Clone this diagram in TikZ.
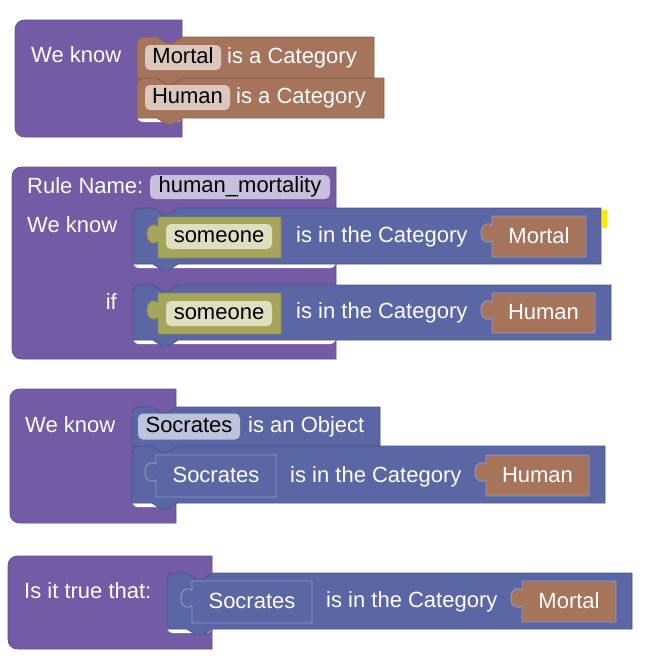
\documentclass[tikz,border=0pt]{standalone}
\usepackage{fontspec}
\setmainfont{Liberation Sans}
\definecolor{cpurple}{HTML}{745BA5}
\definecolor{cpurpled}{HTML}{65508F}
\definecolor{cbrown}{HTML}{A5745B}
\definecolor{cbrownd}{HTML}{8C604B}
\definecolor{cblue}{HTML}{5B67A5}
\definecolor{cblued}{HTML}{4A558C}
\definecolor{cbluel}{HTML}{8F97C8}
\definecolor{colive}{HTML}{A5A55B}
\definecolor{colived}{HTML}{86864A}
\definecolor{fbrown}{HTML}{DCC7BD}
\definecolor{flav}{HTML}{C8BEDD}
\definecolor{fblue}{HTML}{BDC2DD}
\definecolor{folive}{HTML}{DEDEC1}
\definecolor{cyel}{HTML}{FFE800}
\tikzset{
  txt/.style={font=\fontsize{22}{24}\selectfont, inner sep=0pt, text height=15.8pt, text depth=4.8pt},
  lbl/.style={txt, text=white, anchor=west},
  fld/.style={txt, text=black, rounded corners=5pt},
  purpleblock/.style={fill=cpurple, draw=cpurpled, line width=0.8pt},
  brownblock/.style={fill=cbrown, draw=cbrownd, line width=0.8pt},
  blueblock/.style={fill=cblue, draw=cblued, line width=0.8pt},
  oliveblock/.style={fill=colive, draw=colived, line width=0.8pt},
  brownval/.style={fill=cbrown, draw=cbluel, line width=0.9pt},
  blueval/.style={fill=cblue, draw=cbluel, line width=0.9pt},
  lip/.style={fill=white, draw=none, rounded corners=6pt},
}
\newcommand{\purpleblk}[4]{\draw[purpleblock] (#1+10,#2) -- (#3,#2) -- (#3,#4) -- (#1+10,#4) .. controls (#1+4,#4) and (#1,#4-4) .. (#1,#4-10) -- (#1,#2+10) .. controls (#1,#2+4) and (#1+4,#2) .. (#1+10,#2) -- cycle;}
\newcommand{\stmtblk}[5]{\draw[#5] (#1,#4) -- (#1,#2+7) .. controls (#1,#2+3) and (#1+3,#2) .. (#1+7,#2) -- (#1+20,#2) -- (#1+29,#2+6) -- (#1+36,#2+6) -- (#1+45,#2) -- (#3,#2) -- (#3,#4) -- (#1+45,#4) -- (#1+36,#4+6) -- (#1+29,#4+6) -- (#1+20,#4) -- cycle;}
\newcommand{\valblk}[5]{\draw[#5] (#1,#2) -- (#3,#2) -- (#3,#4) -- (#1,#4) -- (#1,#2+25) .. controls (#1-3,#2+27) and (#1-11,#2+28) .. (#1-11,#2+17) .. controls (#1-11,#2+6) and (#1-3,#2+7) .. (#1,#2+9) -- cycle;}
\begin{document}
\begin{tikzpicture}[x=1pt,y=-1pt]
\useasboundingbox[fill=white] (0,0) rectangle (660,667);
% ---------- Block 1 ----------
\purpleblk{15}{20}{182}{137}
\fill[lip] (137,108) rectangle (182,122);
\stmtblk{137}{78}{384}{118}{brownblock}
\stmtblk{137}{37}{374}{78}{brownblock}
\node[lbl] (b1we) at (31,56.5) {We know};
\node[fld, fill=fbrown, minimum width=76pt, minimum height=25pt] (b1f1) at (183,57.5) {Mortal};
\node[lbl] (b1t1) at (227,57.5) {is a Category};
\node[fld, fill=fbrown, minimum width=85pt, minimum height=25pt] (b1f2) at (187.5,97.5) {Human};
\node[lbl] (b1t2) at (236,97.5) {is a Category};
% ---------- Block 2 ----------
\purpleblk{12}{167}{336}{359}
\fill[lip] (133,254) rectangle (336,268);
\fill[lip] (133,331) rectangle (336,344);
\stmtblk{133}{208}{601}{264}{blueblock}
\stmtblk{133}{285}{611}{340}{blueblock}
\fill[cyel] (602,210) rectangle (607,228);
\node[lbl] (b2rn) at (27,187.5) {Rule Name:};
\node[fld, fill=flav, minimum width=180pt, minimum height=24pt] (b2name) at (240,187) {human\_mortality};
\node[lbl] (b2we) at (27,226.5) {We know};
\node[lbl, anchor=east] (b2if) at (117,303.5) {if};
\valblk{158}{217}{281}{258}{oliveblock}
\node[fld, fill=folive, minimum width=106pt, minimum height=25pt] (b2s1) at (219,236.5) {someone};
\node[lbl] (b2c1) at (296,236.5) {is in the Category};
\valblk{492}{216}{586}{257}{brownval}
\node[txt, text=white] (b2m) at (539,237.5) {Mortal};
\valblk{158}{293}{281}{334}{oliveblock}
\node[fld, fill=folive, minimum width=106pt, minimum height=25pt] (b2s2) at (219,313.5) {someone};
\node[lbl] (b2c2) at (296,313) {is in the Category};
\valblk{492}{293}{595}{333}{brownval}
\node[txt, text=white] (b2h) at (543.5,313.5) {Human};
% ---------- Block 3 ----------
\purpleblk{10}{389}{176}{523}
\fill[lip] (132,493) rectangle (176,507);
\stmtblk{132}{446}{605}{503}{blueblock}
\stmtblk{132}{407}{380}{446}{blueblock}
\node[lbl] (b3we) at (25,426.5) {We know};
\node[fld, fill=fblue, minimum width=102pt, minimum height=26pt] (b3f) at (189,426.5) {Socrates};
\node[lbl] (b3o) at (248,427) {is an Object};
\valblk{156}{455}{276}{497}{blueval}
\node[txt, text=white] (b3s) at (216,476.5) {Socrates};
\node[lbl] (b3c) at (290,476.5) {is in the Category};
\valblk{486}{455}{589}{496}{brownval}
\node[txt, text=white] (b3h) at (537.5,477) {Human};
% ---------- Block 4 ----------
\purpleblk{8}{556}{212}{649}
\fill[lip] (167,619) rectangle (212,633);
\stmtblk{167}{573}{632}{629}{blueblock}
\node[lbl] (b4q) at (24,592.5) {Is it true that:};
\valblk{192}{581}{312}{623}{blueval}
\node[txt, text=white] (b4s) at (252,602.5) {Socrates};
\node[lbl] (b4c) at (326,602) {is in the Category};
\valblk{522}{581}{616}{622}{brownval}
\node[txt, text=white] (b4m) at (569,603) {Mortal};
\end{tikzpicture}
\end{document}
